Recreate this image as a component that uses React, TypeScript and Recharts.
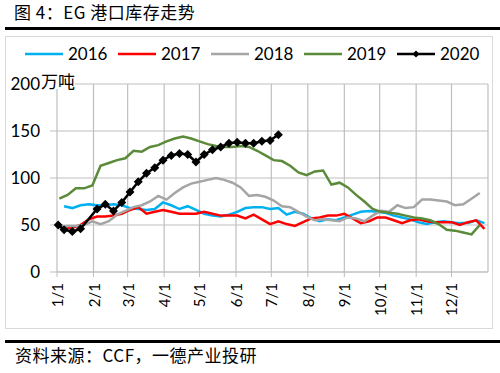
import { LineChart, Line, XAxis, YAxis, CartesianGrid } from "recharts";

// month start days (day of year) and the labels under them
const monthDays = [0, 31, 60, 91, 121, 152, 182, 213, 244, 274, 305, 335];
const monthLabels = ["1/1", "2/1", "3/1", "4/1", "5/1", "6/1", "7/1", "8/1", "9/1", "10/1", "11/1", "12/1"];
const yTicks = [0, 50, 100, 150, 200];

// weekly inventory, 万吨
const start2016 = 6;
const values2016 = [
  70, 68, 71, 72, 71, 71, 72, 71, 68, 67, 66, 67, 74, 71, 67, 70, 66, 62, 60, 59,
  61, 64, 68, 69, 69, 67, 68, 61, 64, 62, 57, 54, 56, 55, 58, 61, 64, 65, 64, 63,
  60, 58, 56, 53, 51, 53, 54, 53, 52, 52, 55, 52,
];
const start2017 = 6;
const values2017 = [
  47, 47, 50, 56, 59, 59, 60, 62, 66, 69, 62, 64, 66, 64, 62, 62, 62, 64, 62, 60,
  60, 60, 57, 61, 56, 51, 54, 51, 49, 53, 57, 58, 60, 60, 62, 57, 52, 54, 58, 58,
  55, 52, 55, 56, 54, 53, 53, 53, 50, 53, 55, 46,
];
const start2018 = 2;
const values2018 = [
  47, 49, 49, 50, 54, 51, 54, 61, 65, 69, 71, 75, 81, 77, 84, 90, 94, 96, 98, 100,
  98, 95, 90, 81, 82, 80, 76, 70, 69, 64, 59, 55, 56, 55, 54, 58, 57, 54, 60, 65,
  64, 71, 68, 69, 77, 77, 76, 75, 71, 72, 78, 84,
];
const start2019 = 2;
const values2019 = [
  78, 82, 89, 89, 92, 113, 116, 119, 121, 129, 128, 133, 135, 139, 142, 144, 142, 139, 136, 134,
  133, 133, 134, 133, 129, 124, 119, 118, 113, 106, 103, 107, 108, 93, 95, 90, 82, 75, 67, 64,
  63, 62, 60, 58, 57, 55, 51, 45, 44, 42, 40, 50,
];
const days2020 = [1, 6, 13, 20, 34, 41, 48, 55, 62, 69, 76, 83, 90, 97, 104, 111, 118, 125, 132, 139, 146, 153, 160, 167, 174, 181, 188];
const values2020 = [50, 45, 43, 46, 67, 72, 65, 74, 85, 96, 105, 111, 119, 124, 126, 125, 117, 125, 130, 133, 137, 138, 137, 137, 139, 140, 146];

const weekly = (start: number, n: number) => Array.from({ length: n }, (_, i) => start + 7 * i);
const toRows = (days: number[], values: number[]) => days.map((day, i) => ({ day, value: values[i] }));

const series = [
  { name: "2016", color: "#00b0f0", data: toRows(weekly(start2016, values2016.length), values2016) },
  { name: "2017", color: "#ff0000", data: toRows(weekly(start2017, values2017.length), values2017) },
  { name: "2018", color: "#a5a5a5", data: toRows(weekly(start2018, values2018.length), values2018) },
  { name: "2019", color: "#5a8a3a", data: toRows(weekly(start2019, values2019.length), values2019) },
  { name: "2020", color: "#000000", data: toRows(days2020, values2020) },
];

const GRID = "#bfbfbf";
const NUM_FONT = "Lato, 'Liberation Sans', sans-serif";
const CJK_FONT = "'Noto Sans CJK SC', sans-serif";

function MonthTick(props: any) {
  const { x, y, payload } = props;
  const label = monthLabels[monthDays.indexOf(payload.value)];
  return (
    <text
      x={x}
      y={y}
      transform={`rotate(-90 ${x} ${y})`}
      textAnchor="end"
      dominantBaseline="central"
      fontSize={15}
      fontFamily={NUM_FONT}
      fill="#000"
    >
      {label}
    </text>
  );
}

function Diamond(props: any) {
  const { cx, cy, index } = props;
  const r = 4.5;
  return (
    <polygon
      key={`d-${index}`}
      points={`${cx},${cy - r} ${cx + r},${cy} ${cx},${cy + r} ${cx - r},${cy}`}
      fill="#000"
    />
  );
}

function LegendRow() {
  return (
    <div style={{ position: "absolute", left: 25, top: 43, display: "flex", alignItems: "center" }}>
      {series.map((s) => (
        <div key={s.name} style={{ display: "flex", alignItems: "center", marginRight: 10 }}>
          <svg width={38} height={12}>
            <line x1={0} y1={6} x2={38} y2={6} stroke={s.color} strokeWidth={2.5} />
            {s.name === "2020" && <polygon points="19,2.5 22.5,6 19,9.5 15.5,6" fill="#000" />}
          </svg>
          <span style={{ marginLeft: 5, fontSize: 17, fontFamily: NUM_FONT, color: "#000", width: 40 }}>
            {s.name}
          </span>
        </div>
      ))}
    </div>
  );
}

export default function App() {
  return (
    <div style={{ position: "absolute", left: 0, top: 0, width: 500, height: 373, background: "#fff", overflow: "hidden" }}>
      <div style={{ position: "absolute", left: 14, top: 1, fontSize: 17, fontFamily: CJK_FONT, letterSpacing: 0.5, lineHeight: "22px", color: "#000" }}>
        图 4：EG 港口库存走势
      </div>
      <div style={{ position: "absolute", left: 5, top: 27, width: 495, height: 2.5, background: "#000" }} />
      <div style={{ position: "absolute", left: 5, top: 36, width: 486, height: 291, border: "1.5px solid #d9d9d9" }} />

      <div style={{ position: "absolute", left: 0, top: 0 }}>
        <LineChart width={500} height={373} margin={{ top: 84, right: 12, bottom: 51, left: 0 }}>
          <CartesianGrid stroke={GRID} strokeWidth={1.2} />
          <XAxis
            dataKey="day"
            type="number"
            domain={[0, 366]}
            ticks={monthDays}
            interval={0}
            height={50}
            stroke={GRID}
            tickSize={5}
            tickMargin={6}
            tick={<MonthTick />}
          />
          <YAxis
            type="number"
            domain={[0, 200]}
            ticks={yTicks}
            width={57}
            axisLine={false}
            tickLine={{ stroke: GRID }}
            tickSize={7}
            tickMargin={10}
            tick={{ fontSize: 17, fontFamily: NUM_FONT, fill: "#000" }}
          />
          {series.map((s) => (
            <Line
              key={s.name}
              data={s.data}
              dataKey="value"
              name={s.name}
              type="linear"
              stroke={s.color}
              strokeWidth={2.5}
              dot={s.name === "2020" ? Diamond : false}
              activeDot={false}
              isAnimationActive={false}
            />
          ))}
        </LineChart>
      </div>

      <LegendRow />
      <div style={{ position: "absolute", left: 41, top: 72, fontSize: 17, lineHeight: "17px", fontFamily: CJK_FONT, background: "#fff", color: "#000" }}>
        万吨
      </div>

      <div style={{ position: "absolute", left: 5, top: 340, width: 495, height: 2.5, background: "#000" }} />
      <div style={{ position: "absolute", left: 15, top: 344, fontSize: 17, fontFamily: CJK_FONT, letterSpacing: 0.5, lineHeight: "22px", color: "#000" }}>
        资料来源：CCF，一德产业投研
      </div>
    </div>
  );
}
